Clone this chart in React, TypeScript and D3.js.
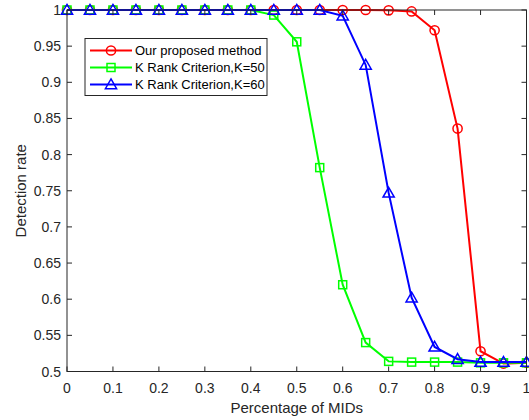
import React from "react";
import * as d3 from "d3";

const xs = [0, 0.05, 0.1, 0.15, 0.2, 0.25, 0.3, 0.35, 0.4, 0.45, 0.5, 0.55, 0.6, 0.65, 0.7, 0.75, 0.8, 0.85, 0.9, 0.95, 1];
const proposed = [1, 1, 1, 1, 1, 1, 1, 1, 1, 1, 1, 1, 1, 1, 0.9995, 0.998, 0.972, 0.836, 0.528, 0.511, 0.512];
const k50 = [1, 1, 1, 1, 1, 1, 1, 1, 1, 0.993, 0.956, 0.782, 0.62, 0.54, 0.514, 0.513, 0.513, 0.513, 0.512, 0.512, 0.512];
const k60 = [1, 1, 1, 1, 1, 1, 1, 1, 1, 1, 1, 1, 0.992, 0.924, 0.747, 0.602, 0.534, 0.517, 0.513, 0.513, 0.513];
const xTicks = [0, 0.1, 0.2, 0.3, 0.4, 0.5, 0.6, 0.7, 0.8, 0.9, 1];
const yTicks = [0.5, 0.55, 0.6, 0.65, 0.7, 0.75, 0.8, 0.85, 0.9, 0.95, 1];
const seriesNames = ["Our proposed method", "K Rank Criterion,K=50", "K Rank Criterion,K=60"];
const seriesColors = ["#ff0000", "#00ff00", "#0000ff"];
const seriesMarkers = ["circle", "square", "triangle"];

const W = 529, H = 420;
const L = 67, R = 526.5, T = 10, B = 371.5;
const font = "'Liberation Sans', Arial, Helvetica, sans-serif";
const axisColor = "#262626";

function Marker({ type, x, y, color }: { type: string; x: number; y: number; color: string }) {
  if (type === "circle") return <circle cx={x} cy={y} r={4.6} fill="none" stroke={color} strokeWidth={1.5} />;
  if (type === "square") return <rect x={x - 4} y={y - 4} width={8} height={8} fill="none" stroke={color} strokeWidth={1.5} />;
  const s = 5.6;
  return <path d={`M${x},${y - s}L${x + s},${y + s * 0.75}L${x - s},${y + s * 0.75}Z`} fill="none" stroke={color} strokeWidth={1.5} />;
}

export default function App() {
  const x = d3.scaleLinear().domain([0, 1]).range([L, R]);
  const y = d3.scaleLinear().domain([0.5, 1]).range([B, T]);
  const data = [proposed, k50, k60];
  const line = d3.line<number>().x((_, i) => x(xs[i])).y((d) => y(d));
  const tl = 5;
  return (
    <svg width={W} height={H} style={{ position: "absolute", left: 0, top: 0, background: "#fff" }}>
      <rect x={0} y={0} width={W} height={H} fill="#fff" />
      {data.map((s, si) => (
        <g key={si}>
          <path d={line(s) || ""} fill="none" stroke={seriesColors[si]} strokeWidth={2} />
          {s.map((v, i) => (
            <Marker key={i} type={seriesMarkers[si]} x={x(xs[i])} y={y(v)} color={seriesColors[si]} />
          ))}
        </g>
      ))}
      <rect x={L} y={T} width={R - L} height={B - T} fill="none" stroke={axisColor} strokeWidth={1} />
      {xTicks.map((t) => (
        <g key={"x" + t}>
          <line x1={x(t)} x2={x(t)} y1={B} y2={B - tl} stroke={axisColor} />
          <line x1={x(t)} x2={x(t)} y1={T} y2={T + tl} stroke={axisColor} />
          <text x={x(t)} y={B + 21} textAnchor="middle" fontSize={14} fontFamily={font} fill={axisColor}>{String(t)}</text>
        </g>
      ))}
      {yTicks.map((t) => (
        <g key={"y" + t}>
          <line x1={L} x2={L + tl} y1={y(t)} y2={y(t)} stroke={axisColor} />
          <line x1={R} x2={R - tl} y1={y(t)} y2={y(t)} stroke={axisColor} />
          <text x={L - 6} y={y(t) + 5} textAnchor="end" fontSize={14} fontFamily={font} fill={axisColor}>{String(t)}</text>
        </g>
      ))}
      <text x={(L + R) / 2} y={413} textAnchor="middle" fontSize={15} fontFamily={font} fill={axisColor}>Percentage of MIDs</text>
      <text transform={`translate(26,${(T + B) / 2}) rotate(-90)`} textAnchor="middle" fontSize={15} fontFamily={font} fill={axisColor}>Detection rate</text>
      <g>
        <rect x={85} y={38.5} width={182} height={57} fill="#fff" stroke={axisColor} strokeWidth={1} />
        {seriesNames.map((n, i) => {
          const ly = 50.5 + i * 17;
          return (
            <g key={n}>
              <line x1={90} x2={132} y1={ly} y2={ly} stroke={seriesColors[i]} strokeWidth={2} />
              <Marker type={seriesMarkers[i]} x={111} y={ly} color={seriesColors[i]} />
              <text x={135} y={ly + 4.5} fontSize={13} fontFamily={font} fill="#000">{n}</text>
            </g>
          );
        })}
      </g>
    </svg>
  );
}
